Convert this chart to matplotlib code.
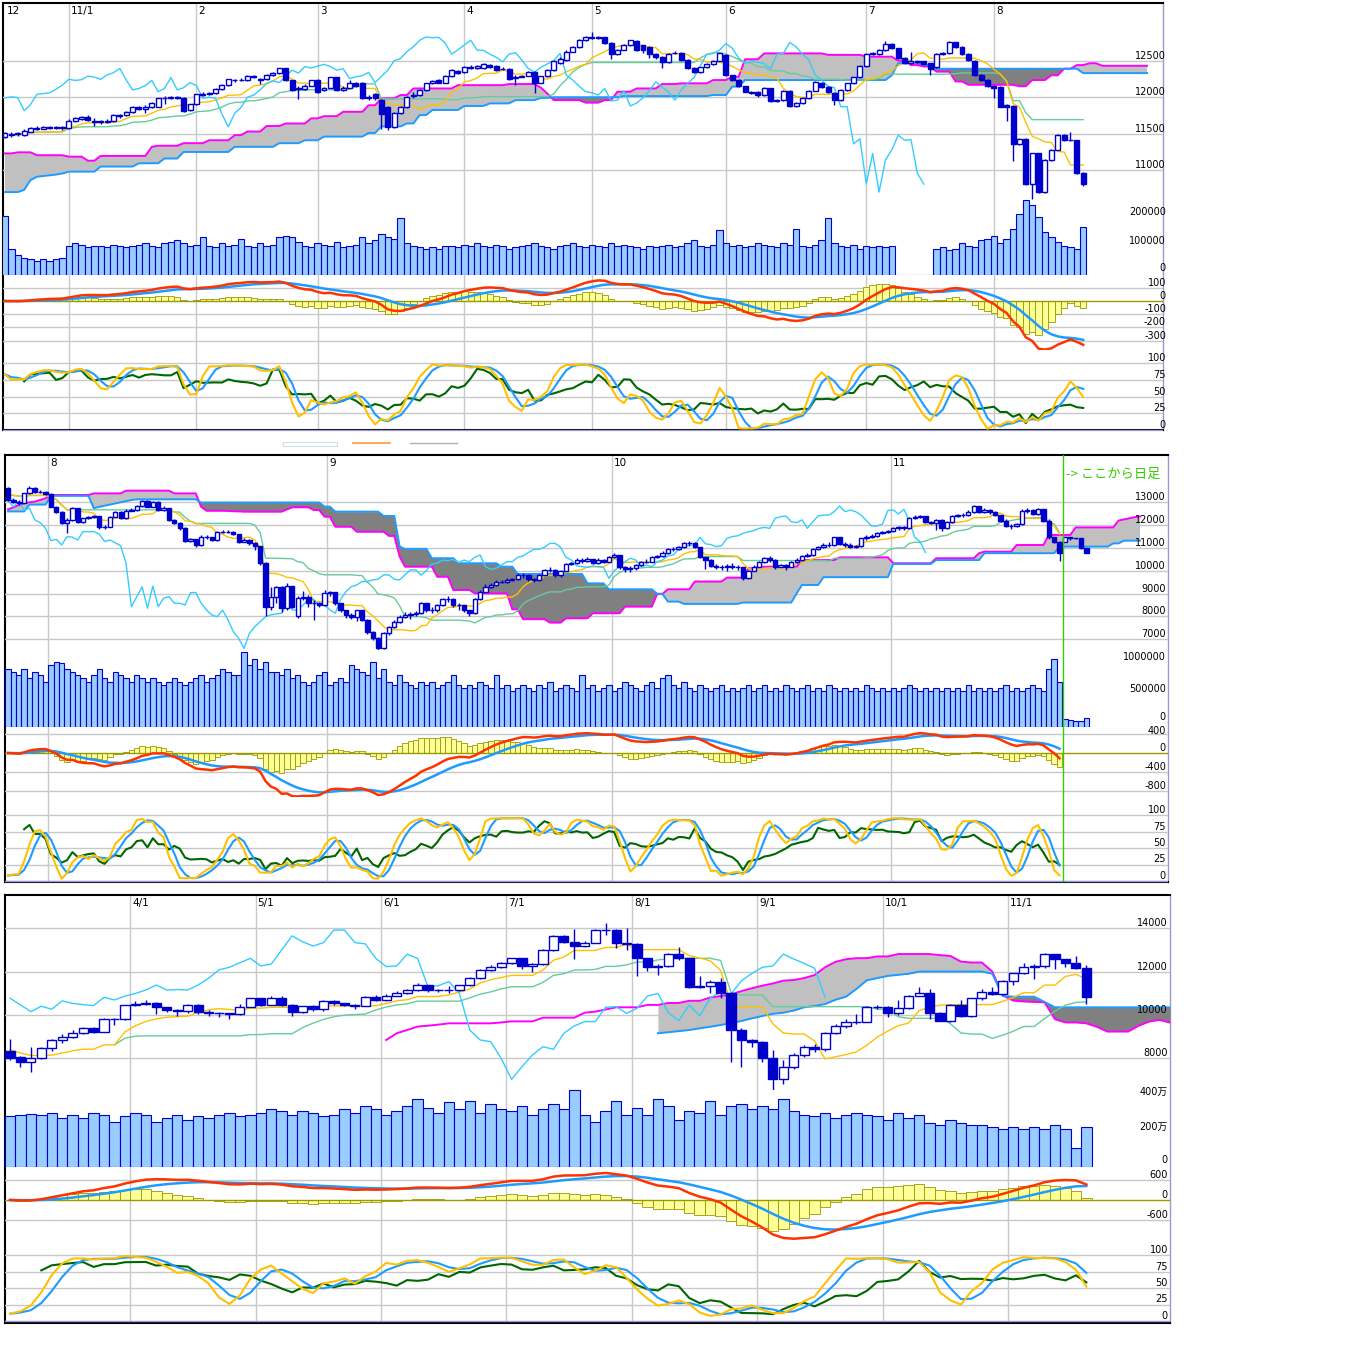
import numpy as np
import pandas as pd
import matplotlib
matplotlib.use('Agg')
import matplotlib.pyplot as plt
from matplotlib.transforms import blended_transform_factory as btf
from matplotlib.lines import Line2D
from matplotlib.patches import Rectangle

plt.rcParams['font.family'] = ['DejaVu Sans', 'Noto Sans CJK JP']

# ---------------- Panel 1 : daily (Dec - Aug) ----------------
p1_month_idx = [0, 10, 30, 49, 72, 92, 113, 135, 155]
p1_month_lbl = ['12', '11/1', '2', '3', '4', '5', '6', '7', '8']
p1_open = [11460,11485,11490,11480,11530,11570,11570,11580,11595,11580,
 11575,11680,11700,11735,11665,11670,11660,11670,11740,11755,
 11800,11860,11840,11870,11870,11985,11990,12000,11995,11830,
 11900,12030,12050,12055,12110,12165,12240,12235,12235,12285,
 12240,12245,12305,12330,12395,12235,12110,12115,12160,12235,
 12100,12130,12270,12100,12130,12200,12200,11985,12050,11960,
 11870,11595,11780,11860,12010,12030,12100,12190,12235,12200,
 12290,12365,12340,12420,12405,12400,12445,12425,12385,12390,
 12260,12280,12295,12350,12200,12285,12370,12470,12510,12625,
 12690,12780,12825,12815,12825,12745,12590,12650,12715,12775,
 12710,12690,12590,12550,12485,12600,12610,12510,12400,12345,
 12410,12455,12500,12580,12300,12240,12150,12075,12070,12030,
 12120,11950,11960,12090,11880,11920,11990,12090,12200,12140,
 12060,11960,12100,12190,12270,12430,12590,12590,12645,12730,
 12670,12535,12470,12490,12490,12465,12410,12590,12600,12750,
 12690,12590,12500,12310,12240,12150,12140,11890,11880,11360,
 11430,10810,11230,10700,11140,11280,11480,11410,11410,10960]
p1_close = [11515,11500,11510,11540,11575,11580,11585,11590,11575,11590,
 11680,11710,11725,11690,11670,11665,11680,11755,11755,11800,
 11860,11840,11870,11915,11985,11990,12005,11995,11815,11900,
 12040,12050,12060,12110,12165,12245,12230,12240,12290,12275,
 12245,12305,12335,12395,12235,12100,12120,12160,12230,12075,
 12120,12270,12100,12130,12200,12160,11985,12000,11985,11770,
 11595,11780,11860,12000,12030,12100,12190,12225,12200,12290,
 12370,12330,12420,12400,12425,12450,12420,12370,12390,12255,
 12280,12295,12340,12200,12285,12370,12500,12530,12625,12690,
 12780,12825,12815,12820,12740,12590,12650,12715,12780,12645,
 12640,12590,12545,12485,12590,12610,12510,12395,12345,12410,
 12455,12500,12600,12300,12235,12150,12075,12060,12030,12120,
 11950,11960,12090,11880,11920,11990,12090,12210,12140,12070,
 11960,12100,12190,12270,12430,12590,12600,12645,12735,12670,
 12535,12465,12490,12480,12460,12390,12590,12600,12750,12690,
 12590,12510,12300,12235,12150,12130,11870,11870,11360,11430,
 10810,11230,10700,11140,11280,11480,11410,11420,10960,10810]
p1_high = [11530,11520,11525,11560,11590,11600,11600,11605,11610,11605,
 11700,11730,11745,11750,11710,11690,11700,11770,11775,11815,
 11875,11880,11890,11930,11995,12010,12015,12010,12000,11910,
 12050,12065,12075,12120,12180,12255,12255,12260,12300,12300,
 12265,12320,12345,12405,12400,12240,12150,12175,12240,12250,
 12140,12280,12280,12150,12230,12210,12210,12030,12060,11970,
 11880,11800,11880,12010,12070,12110,12200,12240,12245,12300,
 12380,12375,12430,12435,12440,12465,12455,12435,12410,12400,
 12300,12310,12355,12360,12295,12380,12510,12545,12640,12705,
 12795,12840,12890,12835,12830,12750,12665,12730,12790,12785,
 12720,12700,12600,12560,12600,12630,12620,12520,12410,12420,
 12465,12510,12610,12590,12310,12250,12160,12090,12080,12135,
 12130,11980,12100,12100,11935,12000,12100,12220,12210,12150,
 12070,12110,12200,12280,12440,12600,12620,12660,12770,12740,
 12680,12545,12620,12500,12500,12475,12600,12620,12775,12760,
 12700,12600,12510,12320,12250,12165,12150,11900,11890,11440,
 11440,11240,11240,11150,11290,11490,11500,11530,11420,10970]
p1_low = [11440,11450,11470,11470,11520,11555,11560,11565,11560,11550,
 11560,11660,11690,11680,11600,11630,11645,11660,11720,11745,
 11790,11820,11780,11855,11860,11900,11975,11970,11800,11810,
 11890,12010,12035,12045,12100,12155,12215,12220,12225,12260,
 12180,12235,12290,12320,12225,12090,11980,12100,12150,12060,
 12085,12120,12090,12080,12120,12140,11970,11960,11960,11560,
 11550,11580,11770,11850,11990,12020,12090,12180,12190,12190,
 12280,12320,12330,12390,12390,12390,12405,12360,12370,12240,
 12170,12270,12285,12060,12190,12275,12360,12455,12500,12615,
 12680,12770,12800,12800,12730,12530,12580,12640,12705,12635,
 12600,12540,12530,12400,12475,12585,12500,12380,12330,12335,
 12400,12445,12490,12290,12225,12140,12065,12040,12000,12020,
 11940,11930,11950,11860,11870,11910,11980,12080,12130,12060,
 11890,11950,12090,12180,12260,12420,12575,12580,12635,12660,
 12520,12450,12460,12465,12445,12300,12400,12580,12590,12680,
 12580,12500,12290,12225,12140,11990,11860,11670,11130,11350,
 10800,10610,10690,10690,11130,11270,11400,11400,10950,10790]
p1_volume = [205,90,70,60,55,50,55,50,55,60,
 100,110,105,95,100,100,95,105,100,95,
 100,105,110,100,95,110,115,120,110,100,
 105,130,100,95,110,100,105,125,100,95,
 110,100,105,130,135,130,115,100,95,110,
 105,100,115,95,100,105,130,110,120,140,
 130,125,195,110,100,95,90,95,90,100,
 100,95,105,100,110,100,95,105,100,90,
 95,100,105,110,100,95,90,100,105,110,
 100,95,105,100,95,110,100,105,100,95,
 90,100,95,100,105,95,100,110,120,100,
 95,105,155,110,100,105,95,100,110,105,
 100,95,110,105,160,100,95,105,120,195,
 110,100,95,105,90,100,95,100,95,100,
 0,0,0,0,0,0,90,95,85,90,
 110,100,95,120,125,135,110,125,160,210,
 258,240,200,150,130,115,100,95,90,165]
p1_spanA = [11230,11230,11245,11245,11245,11205,11205,11205,11205,11205,
 11185,11185,11185,11130,11130,11195,11195,11195,11195,11195,
 11195,11195,11195,11320,11335,11335,11335,11335,11370,11370,
 11370,11370,11410,11410,11410,11410,11480,11480,11530,11530,
 11530,11605,11605,11605,11640,11640,11640,11640,11710,11710,
 11740,11740,11740,11800,11800,11800,11800,11890,11890,11985,
 11985,11985,12030,12030,12120,12120,12120,12120,12120,12120,
 12120,12165,12165,12165,12165,12165,12165,12165,12165,12180,
 12180,12180,12180,12180,12130,12050,11960,11960,11960,11960,
 11960,11925,11925,11925,11960,11960,12075,12075,12075,12120,
 12120,12120,12120,12180,12180,12180,12190,12190,12190,12190,
 12190,12235,12235,12235,12280,12280,12520,12520,12520,12600,
 12600,12600,12600,12600,12600,12600,12600,12600,12600,12580,
 12580,12580,12580,12580,12580,12555,12555,12555,12555,12555,
 12500,12500,12440,12440,12420,12420,12350,12350,12350,12215,
 12215,12170,12170,12170,12170,12170,12170,12170,12170,12150,
 12150,12235,12235,12235,12300,12300,12390,12390,12440,12440,
 12465,12465,12430,12430,12430,12430,12430,12430,12430,12430]
p1_spanB = [10700,10700,10700,10730,10865,10910,10920,10930,10940,10955,
 10980,10980,10980,10980,10980,11050,11050,11050,11050,11050,
 11050,11095,11095,11095,11095,11160,11160,11160,11250,11250,
 11250,11250,11250,11250,11250,11250,11320,11320,11320,11320,
 11320,11320,11320,11370,11370,11370,11370,11410,11410,11410,
 11460,11460,11460,11460,11460,11460,11460,11510,11510,11600,
 11600,11600,11600,11640,11640,11755,11755,11825,11825,11825,
 11825,11825,11880,11880,11880,11880,11915,11915,11915,11915,
 11960,11960,11960,11960,11990,11990,12000,12000,12000,12000,
 12000,12000,12000,12000,12000,12000,12000,12015,12015,12015,
 12015,12015,12015,12015,12015,12015,12015,12015,12015,12015,
 12015,12030,12030,12030,12145,12145,12235,12235,12235,12235,
 12235,12235,12235,12235,12235,12235,12235,12235,12235,12235,
 12235,12235,12235,12235,12235,12235,12235,12235,12235,12300,
 12465,12465,12465,12490,12440,12440,12390,12390,12390,12390,
 12390,12390,12390,12390,12390,12390,12390,12390,12390,12390,
 12390,12390,12390,12390,12390,12390,12390,12390,12390,12330,
 12330,12330,12330,12330,12330,12330,12330,12330,12330,12330]

# ---------------- Panel 2 : weekly 2008-2011 (+ daily) ----------------
p2_year_idx = [8, 60, 113, 165]
p2_year_lbl = ['8', '9', '10', '11']
p2_weekly_count = 197
p2_note = '-> ここから日足'
p2_open = [13610,13100,13030,12990,13390,13610,13470,13470,13365,12810,
 12590,12110,12230,12740,12150,12300,12370,12400,11900,11930,
 12370,12590,12300,12640,12660,12840,13070,12810,13030,12660,
 12740,12230,12110,11860,11320,11380,11130,11500,11470,11350,
 11720,11710,11720,11610,11280,11350,11230,11090,10330,8430,
 8870,9300,8360,9330,8020,8800,8870,8580,8580,8500,
 9040,9050,8580,8280,8060,7990,8280,7850,7330,7040,
 6600,7260,7550,7770,7990,8070,8110,8140,8580,8280,
 8280,8500,8750,8750,8500,8500,8290,8140,8750,9090,
 9310,9380,9530,9530,9600,9630,9820,9820,9630,9600,
 9820,10040,10040,9810,10010,10300,10330,10470,10440,10500,
 10360,10470,10400,10590,10690,10180,10060,10110,10250,10400,
 10400,10590,10650,10800,10940,10940,11030,11200,11200,11030,
 10590,10470,10210,10180,10150,10210,10180,10150,9670,10010,
 10180,10400,10550,10470,10180,10250,10180,10400,10470,10650,
 10690,10940,11060,11130,11130,11470,11180,11150,11060,11100,
 11420,11500,11530,11640,11710,11760,11860,11900,11860,12300,
 12370,12400,12150,12110,12230,11860,12150,12400,12440,12440,
 12590,12840,12590,12660,12590,12440,12200,11960,11960,12050,
 12640,12660,12490,12690,12200,11470,11280,11280,11470,11420,
 11420,10990]
p2_close = [13100,13030,12990,13390,13610,13470,13470,13365,12810,12590,
 12110,12230,12740,12150,12300,12370,12400,11900,11930,12370,
 12590,12300,12640,12660,12840,13070,12810,13030,12660,12740,
 12230,12110,11860,11320,11380,11130,11500,11470,11350,11720,
 11710,11720,11610,11280,11350,11230,11090,10330,8430,8870,
 9300,8360,9330,8430,8800,8870,8580,8580,8500,9040,
 9050,8580,8280,8060,7990,8280,7850,7330,7040,6600,
 7260,7550,7770,7990,8070,8110,8140,8580,8280,8280,
 8500,8750,8750,8500,8500,8290,8140,8750,9090,9310,
 9380,9530,9530,9600,9630,9820,9820,9630,9600,9820,
 10040,10040,9810,10010,10300,10330,10470,10440,10500,10360,
 10470,10400,10590,10690,10180,10060,10110,10250,10400,10400,
 10590,10650,10800,10940,10940,11030,11200,11200,11030,10590,
 10470,10210,10180,10150,10210,10180,10150,9670,10010,10180,
 10400,10550,10470,10180,10250,10180,10400,10470,10650,10690,
 10940,11060,11130,11130,11470,11180,11150,11060,11100,11420,
 11500,11530,11640,11710,11760,11860,11900,11860,12300,12370,
 12400,12150,12110,12230,11860,12150,12400,12440,12440,12590,
 12840,12590,12660,12590,12440,12200,11960,11960,12050,12640,
 12660,12490,12690,12200,11470,11280,10800,11470,11420,11420,
 10990,10800]
p2_high = [13650,13200,13100,13420,13700,13650,13520,13500,13400,12850,
 12620,12300,12780,12760,12330,12400,12450,12420,12000,12400,
 12620,12600,12700,12750,12900,13100,13080,13070,13050,12850,
 12760,12250,12150,11900,11450,11400,11550,11560,11500,11760,
 11800,11780,11750,11620,11420,11380,11260,11100,10400,9300,
 9350,9350,9450,9350,8900,9100,8950,8700,8650,9150,
 9100,9080,8600,8300,8150,8300,8290,7900,7350,7100,
 7300,7600,7850,8050,8200,8200,8250,8650,8600,8400,
 8550,8800,8900,8800,8600,8520,8300,8800,9150,9400,
 9450,9600,9600,9700,9700,9900,9900,9850,9700,9850,
 10100,10150,10060,10050,10350,10400,10550,10550,10600,10520,
 10550,10500,10650,10800,10700,10200,10200,10300,10450,10500,
 10650,10700,10850,11000,11050,11100,11280,11300,11250,11050,
 10600,10500,10300,10250,10300,10350,10250,10180,10050,10250,
 10450,10600,10650,10500,10300,10300,10450,10550,10700,10800,
 11000,11100,11200,11250,11500,11480,11250,11200,11150,11450,
 11550,11600,11700,11750,11800,11900,11950,11950,12350,12450,
 12450,12420,12200,12280,12250,12200,12450,12500,12550,12650,
 12900,12850,12750,12700,12600,12450,12250,12050,12100,12700,
 12750,12700,12750,12720,12250,11500,11300,11500,11480,11450,
 11450,11000]
p2_low = [13050,12950,12900,12950,13350,13400,13400,13300,12780,12550,
 12050,11640,12200,12100,12100,12280,12330,11850,11850,11900,
 12350,12250,12280,12600,12640,12800,12780,12800,12600,12620,
 12200,12050,11800,11280,11250,11050,11100,11400,11300,11320,
 11650,11650,11550,11200,11250,11150,10900,10250,8000,8300,
 8600,8200,8300,8350,7950,8700,8400,7850,8400,8450,
 8900,8500,8200,7950,7900,7800,7800,7250,6950,6530,
 6580,7200,7500,7700,7950,7900,8000,8100,8200,8150,
 8200,8450,8650,8400,8300,8200,8000,8100,8700,9050,
 9250,9350,9450,9450,9550,9600,9700,9550,9500,9550,
 9800,9950,9750,9750,9980,10250,10300,10350,10400,10300,
 10300,10350,10380,10550,10100,9950,9950,10050,10200,10350,
 10380,10550,10600,10750,10850,10900,11000,11100,11000,10550,
 10100,10150,10100,10050,10000,10100,10050,9600,9650,9980,
 10150,10350,10400,10100,10150,10050,10150,10350,10450,10600,
 10650,10900,11000,11050,11100,11150,11050,11000,11000,11050,
 11350,11450,11500,11600,11650,11700,11800,11800,11850,12250,
 12300,12100,12050,11800,11750,11850,12100,12350,12350,12400,
 12550,12550,12550,12500,12400,12150,11900,11850,11900,12000,
 12550,12450,12450,12150,11400,11200,10450,11250,11350,11380,
 10950,10780]
p2_volume = [900,850,800,900,750,850,800,700,950,1000,
 980,900,850,800,750,700,800,900,750,700,
 850,800,750,700,800,750,700,750,700,650,
 700,750,700,650,700,750,800,700,750,800,
 900,850,800,800,1150,950,1050,900,1000,850,
 850,800,900,750,800,700,650,700,800,850,
 650,700,750,700,950,900,850,800,1000,750,
 900,700,650,800,700,650,600,700,650,700,
 600,650,700,800,650,600,650,600,700,650,
 600,800,600,650,550,600,650,600,550,650,
 600,700,550,600,650,600,550,800,600,650,
 550,600,650,550,600,700,650,600,550,650,
 700,600,750,800,650,600,700,600,550,650,
 600,550,600,650,550,600,550,600,650,550,
 600,650,550,600,550,650,600,550,600,650,
 550,600,550,650,600,550,600,550,600,550,
 650,600,550,600,550,600,550,600,650,600,
 550,600,550,600,550,600,550,600,550,650,
 550,600,550,600,550,600,650,550,600,550,
 600,650,600,550,900,1050,700,120,110,90,
 100,140]
p2_spanA = [12690,12780,12880,12950,13000,13030,13100,13175,13320,13320,
 13320,13320,13320,13320,13320,13320,13390,13390,13390,13390,
 13390,13390,13510,13510,13510,13510,13510,13510,13510,13510,
 13510,13390,13390,13390,13390,13390,12800,12630,12630,12630,
 12630,12620,12610,12600,12590,12590,12590,12590,12590,12590,
 12590,12590,12690,12780,12780,12780,12780,12660,12660,12370,
 12370,11930,11930,11930,11930,11710,11710,11710,11710,11710,
 11710,11530,11530,10620,10180,10180,10180,10180,10180,10180,
 9740,9740,9740,9160,9160,9160,9160,9010,9010,9010,
 9010,9010,9010,9010,8310,8310,7880,7880,7880,7880,
 7880,7730,7730,7730,7920,7920,7920,7920,7920,8140,
 8140,8140,8140,8140,8140,8430,8430,8430,8430,8430,
 8430,8990,8990,9190,9190,9190,9190,9190,9530,9530,
 9530,9530,9530,9530,9700,9700,9700,9700,10110,10110,
 10180,10180,10180,10180,10180,10180,10180,10180,10470,10470,
 10470,10470,10470,10470,10470,10590,10590,10590,10590,10590,
 10590,10590,10590,10590,10590,10330,10330,10330,10330,10330,
 10330,10330,10330,10550,10550,10550,10550,10550,10550,10550,
 10550,10770,10840,10840,10840,10840,10840,10840,11130,11130,
 11130,11130,11130,11130,11570,11570,11570,11570,11570,11900,
 11900,11900,11900,11900,11900,11900,11900,12200,12250,12300,
 12350,12380]
p2_spanB = [12600,12600,12600,12600,12900,12900,12900,12900,13280,13280,
 13280,13280,13280,13280,13280,13280,12740,12800,12850,12900,
 12950,13000,13050,13100,13130,13130,13130,13130,13130,13130,
 13130,13130,13130,13130,13130,13130,12990,12990,12990,12990,
 12990,12990,12990,12990,12990,12990,12990,12990,12990,12990,
 12990,12990,12990,12990,12990,12990,12990,12990,12990,12810,
 12810,12590,12590,12590,12590,12590,12590,12590,12590,12590,
 12400,12400,12400,11060,10960,10960,10960,10960,10960,10550,
 10550,10550,10550,10550,10330,10330,10330,10330,10330,10330,
 10330,10330,10180,10180,10180,9860,9860,9860,9860,9860,
 9860,9860,9860,9860,9860,9860,9860,9860,9450,9450,
 9450,9450,9190,9190,9190,9190,9190,9190,9190,9190,
 9190,8990,8990,8650,8650,8650,8550,8550,8550,8550,
 8550,8550,8550,8550,8550,8550,8550,8610,8610,8610,
 8610,8610,8610,8610,8610,8610,8610,9010,9380,9380,
 9380,9380,9720,9720,9720,9720,9720,9720,9720,9720,
 9720,9720,9720,9720,9720,10300,10300,10300,10300,10300,
 10300,10300,10300,10470,10470,10470,10470,10470,10470,10470,
 10470,10470,10770,10770,10770,10770,10770,10770,10770,10770,
 10770,10770,10770,10770,10770,10770,11060,11060,11060,11060,
 11060,11060,11060,11060,11060,11060,11200,11200,11320,11320,
 11320,11320]

# ---------------- Panel 3 : Mar - Nov ----------------
p3_month_idx = [12, 24, 36, 48, 60, 72, 84, 96]
p3_month_lbl = ['4/1', '5/1', '6/1', '7/1', '8/1', '9/1', '10/1', '11/1']
p3_open = [8330,8040,7840,7990,8450,8840,9000,9180,9380,9225,
 9800,9800,10460,10510,10560,10350,10225,10170,10460,10150,
 10070,10070,10020,10380,10770,10460,10770,10460,10150,10400,
 10260,10650,10530,10470,10430,10810,10690,10870,10990,11150,
 11380,11150,11170,11150,11380,11690,12080,12200,12410,12610,
 12260,12350,13000,13650,13380,13180,13340,13920,13920,13340,
 13280,12610,12230,12260,12800,12610,11300,11350,11540,11000,
 9300,8840,8760,7990,7020,7610,8150,8530,8410,9150,
 9490,9690,9690,10350,10380,10070,10300,10870,10990,10100,
 9730,10460,9950,10770,11070,10960,11580,11920,12200,12260,
 12810,12580,12380,12150]
p3_close = [8025,7840,7990,8450,8840,9000,9180,9380,9225,9800,
 9800,10460,10510,10560,10350,10225,10170,10460,10150,10070,
 10070,10020,10380,10770,10460,10770,10460,10150,10400,10260,
 10650,10530,10470,10430,10810,10690,10870,10990,11150,11380,
 11150,11170,11150,11380,11690,12080,12200,12410,12610,12260,
 12350,13000,13650,13380,13180,13340,13920,13920,13340,13280,
 12610,12230,12260,12800,12610,11300,11350,11540,11000,9300,
 8840,8760,7990,7020,7610,8150,8530,8410,9150,9490,
 9690,9690,10350,10380,10070,10300,10870,10990,10100,9730,
 10460,9950,10770,11070,10960,11580,11920,12200,12260,12810,
 12580,12380,12150,10810]
p3_high = [8870,8100,8530,8500,8900,9100,9300,9450,9450,9850,
 9850,10470,10650,10680,10600,10380,10280,10500,10480,10230,
 10150,10100,10500,10800,10790,10880,10850,10480,10420,10450,
 10680,10700,10550,10500,10850,10900,10950,11100,11200,11450,
 11400,11200,11350,11400,11750,12100,12300,12450,12650,12630,
 12400,13050,13700,13700,13950,13400,13950,14230,13950,14000,
 13300,12650,12350,12850,13150,12650,11800,11600,11700,11050,
 9400,8900,8800,8400,7900,8250,8600,8650,9200,9600,
 9800,10050,10400,10450,10400,10700,10900,11300,11200,10150,
 10500,10700,10800,11200,11300,11600,11950,12400,12350,12850,
 12830,12600,12700,12300]
p3_low = [7920,7610,7380,7950,8350,8700,8950,9100,9150,9200,
 9550,9780,10400,10450,10050,10150,9950,10100,10050,9950,
 9900,9820,10000,10350,10420,10450,10400,9950,10100,10200,
 10200,10450,10400,10250,10400,10650,10650,10850,10950,11100,
 11050,11050,11000,11100,11350,11650,12050,12150,12350,12100,
 12000,12300,12950,13300,12600,13150,13300,13700,13100,13000,
 11800,12050,11830,12200,12550,11250,11250,11000,10800,7840,
 7600,8500,7800,6530,6800,7500,8050,8300,8350,9100,
 9400,9600,9650,10250,9900,10000,10250,10850,9800,9700,
 9650,9900,9900,10700,10900,10900,11400,11900,11650,12150,
 12100,12200,12100,10480]
p3_volume = [290,300,305,300,310,280,300,280,310,300,
 260,290,310,300,260,280,300,270,290,280,
 300,310,290,300,310,330,320,300,320,310,
 290,300,330,310,350,330,300,320,350,390,
 340,310,370,330,380,310,360,330,320,350,
 300,330,360,330,440,300,260,320,380,300,
 340,300,390,350,270,320,310,380,300,350,
 360,330,350,330,390,320,300,290,310,280,
 300,310,300,290,270,310,280,300,250,240,
 270,250,240,240,230,220,230,220,230,220,
 240,220,110,230]
p3_spanA = [None]*36 + [8840,9150,9300,9460,
 9500,9550,9610,9610,9610,9610,9610,9650,9700,9700,
 9700,9870,9870,9870,9870,10100,10150,10250,10350,10350,
 10350,10460,10460,10550,10550,10650,10650,10800,10870,10950,
 11100,11230,11350,11450,11580,11610,11700,11840,12200,12450,
 12570,12620,12620,12700,12700,12810,12810,12810,12810,12760,
 12720,12460,12420,12420,12000,10900,10660,10620,10600,10580,
 9800,9650,9650,9610,9450,9230,9230,9230,9500,9690,
 9770,9640]
p3_spanB = [None]*62 + [9150,9200,9250,9300,9380,9450,9530,9620,
 9720,9840,9950,10050,10100,10200,10350,10410,10500,10700,
 10840,11200,11600,11700,11800,11850,11900,12000,12000,12000,
 12000,12000,12000,12000,11900,10870,10840,10840,10840,10600,
 10350,10350,10350,10350,10350,10350,10350,10350,10350,10350,
 10350,10350]

# ---------------- drawing helpers ----------------
W, H = 1366, 1360
fig = plt.figure(figsize=(W / 100, H / 100), dpi=100)
fig.patch.set_facecolor('white')

CANDLE = '#0000CC'
GRID = '#C8C8C8'
FS = 7


def add_ax(px0, px1, py0, py1, xlim, z):
    ax = fig.add_axes([px0 / W, 1 - py1 / H, (px1 - px0) / W, (py1 - py0) / H], zorder=z)
    ax.set_xlim(*xlim)
    ax.axis('off')
    return ax


def set_y(ax, py0, py1, yref, vref, per_px):
    ax.set_ylim(vref - (py1 - yref) * per_px, vref + (yref - py0) * per_px)


def hgrid(ax, vals, color=GRID, lw=1.0):
    for v in vals:
        ax.axhline(v, color=color, lw=lw, zorder=0.5)


def ylabels(ax, vals, labels, xr, lift=None):
    tr = btf(fig.transFigure, ax.transData)
    lift = lift or [0] * len(vals)
    for v, s, d in zip(vals, labels, lift):
        ax.annotate(s, xy=(xr / W, v), xycoords=tr, xytext=(0, d), textcoords='offset points',
                    ha='right', va='bottom', fontsize=FS, annotation_clip=False, zorder=10)


def frame(px0, px1, py0, py1, xlim, grid_x, lbl_x, lbls):
    bg = fig.add_axes([px0 / W, 1 - py1 / H, (px1 - px0) / W, (py1 - py0) / H], zorder=0)
    bg.set_xlim(*xlim)
    bg.set_ylim(0, 1)
    bg.set_xticks([])
    bg.set_yticks([])
    bg.set_facecolor('white')
    for k in ('top', 'left', 'bottom'):
        bg.spines[k].set_color('black')
        bg.spines[k].set_linewidth(1.5)
    bg.spines['right'].set_color('#9999CC')
    bg.spines['right'].set_linewidth(1.0)
    for xv in grid_x:
        bg.axvline(xv, color=GRID, lw=1.0)
    for xv, s in zip(lbl_x, lbls):
        bg.annotate(s, xy=(xv, 1), xycoords=('data', 'axes fraction'), xytext=(1.5, -2),
                    textcoords='offset points', ha='left', va='top', fontsize=7.5)
    return bg


def candles(ax, x, o, h, l, c, width):
    ax.vlines(x, l, h, color=CANDLE, lw=1.0, zorder=3)
    up = c >= o
    bot = np.minimum(o, c)
    hgt = np.abs(c - o)
    ax.bar(x[up], hgt[up], width, bot[up], color='white', edgecolor=CANDLE, lw=1.0, zorder=4)
    ax.bar(x[~up], hgt[~up], width, bot[~up], color=CANDLE, edgecolor=CANDLE, lw=1.0, zorder=4)


def cloud(ax, a, b):
    a = np.array(a, dtype=float)
    b = np.array(b, dtype=float)
    x = np.arange(len(a))
    ok = ~np.isnan(a) & ~np.isnan(b)
    xs, aa, bb = x[ok], a[ok], b[ok]
    ax.fill_between(xs, aa, bb, where=aa >= bb, interpolate=True, color='#C0C0C0', lw=0, zorder=1)
    ax.fill_between(xs, aa, bb, where=bb > aa, interpolate=True, color='#808080', lw=0, zorder=1)
    ax.plot(x, a, color='#FF00FF', lw=1.4, zorder=2)
    ax.plot(x, b, color='#1E9BFF', lw=1.4, zorder=2)


def ichimoku_lines(ax, h, l, c, kijun_from=0):
    hs, ls = pd.Series(h), pd.Series(l)
    tenkan = (hs.rolling(9, min_periods=1).max() + ls.rolling(9, min_periods=1).min()) / 2
    kijun = (hs.rolling(26, min_periods=1).max() + ls.rolling(26, min_periods=1).min()) / 2
    x = np.arange(len(c))
    ax.plot(x[kijun_from:], kijun.values[kijun_from:], color='#66CC99', lw=1.0, zorder=2)
    ax.plot(x, tenkan.values, color='#FFC000', lw=1.0, zorder=2)
    ax.plot(x[25:] - 25, c[25:], color='#33CCFF', lw=1.0, zorder=2)


def macd_plot(ax, c):
    s = pd.Series(c)
    m = s.ewm(span=12, adjust=False).mean() - s.ewm(span=26, adjust=False).mean()
    sig = m.ewm(span=9, adjust=False).mean()
    hist = 1.5 * (m - sig)
    x = np.arange(len(c))
    ax.bar(x, hist.values, 1.0, color='#FFFF99', edgecolor='#999900', lw=0.6, zorder=1)
    ax.axhline(0, color='#999900', lw=1.0, zorder=1.5)
    ax.plot(x, sig.values, color='#1E9BFF', lw=1.8, zorder=2)
    ax.plot(x, m.values, color='#FF3300', lw=1.8, zorder=3)


def stoch_plot(ax, h, l, c):
    hh = pd.Series(h).rolling(9, min_periods=1).max()
    ll = pd.Series(l).rolling(9, min_periods=1).min()
    k = 100 * (pd.Series(c) - ll) / (hh - ll).replace(0, np.nan)
    d = k.rolling(3, min_periods=1).mean()
    sd = d.rolling(3, min_periods=1).mean()
    dc = pd.Series(c).diff()
    up = dc.clip(lower=0).rolling(14, min_periods=3).mean()
    dn = (-dc).clip(lower=0).rolling(14, min_periods=3).mean()
    rsi = 100 * up / (up + dn)
    x = np.arange(len(c))
    ax.plot(x, rsi.values, color='#006600', lw=1.5, zorder=2)
    ax.plot(x, sd.values, color='#1E9BFF', lw=1.5, zorder=3)
    ax.plot(x, d.values, color='#FFC000', lw=1.5, zorder=4)


def vol_plot(ax, v):
    x = np.arange(len(v))
    ax.bar(x, v, 1.0, color='#99CCFF', edgecolor=CANDLE, lw=0.8, zorder=2)


STO_V = [100, 75, 50, 25, 0]
STO_L = ['100', '75', '50', '25', '0']

# ================= Panel 1 =================
o1, h1, l1, c1 = map(lambda a: np.array(a, float), (p1_open, p1_high, p1_low, p1_close))
n1 = len(c1)
X0, DX = 5, 6.38
PX0, PX1 = 3, 1163
xl1 = ((PX0 - X0) / DX, (PX1 - X0) / DX)
frame(PX0, PX1, 3, 430, xl1, p1_month_idx[1:], p1_month_idx, p1_month_lbl)
ax = add_ax(PX0, PX1, 3, 207, xl1, 1)
set_y(ax, 3, 207, 60.7, 12500, 13.7)
hgrid(ax, [12500, 12000, 11500, 11000])
cloud(ax, p1_spanA, p1_spanB)
ichimoku_lines(ax, h1, l1, c1)
candles(ax, np.arange(n1), o1, h1, l1, c1, 0.78)
ylabels(ax, [12500, 12000, 11500, 11000], ['12500', '12000', '11500', '11000'], 1166)
ax = add_ax(PX0, PX1, 190, 275, xl1, 2)
set_y(ax, 190, 275, 275, 0, 100 / 29)
vol_plot(ax, np.array(p1_volume, float))
ylabels(ax, [200, 100, 0], ['200000', '100000', '0'], 1166, [0, 0, 1.5])
ax = add_ax(PX0, PX1, 276, 350, xl1, 2)
set_y(ax, 276, 350, 301, 0, 100 / 13.2)
hgrid(ax, [100, -100, -200, -300])
macd_plot(ax, c1)
ylabels(ax, [100, 0, -100, -200, -300], ['100', '0', '-100', '-200', '-300'], 1166)
ax = add_ax(PX0, PX1, 350, 431, xl1, 2)
set_y(ax, 350, 431, 430, 0, 25 / 16.7)
hgrid(ax, [100, 75, 50, 25])
hgrid(ax, [0], color='#9999DD')
stoch_plot(ax, h1, l1, c1)
ylabels(ax, STO_V, STO_L, 1166)

# ================= Panel 2 =================
o2, h2, l2, c2 = map(lambda a: np.array(a, float), (p2_open, p2_high, p2_low, p2_close))
n2 = len(c2)
nw = p2_weekly_count
X0, DX = 8, 5.365
PX0, PX1 = 5, 1168
xl2 = ((PX0 - X0) / DX, (PX1 - X0) / DX)
yr = [i - 0.5 for i in p2_year_idx]
bg2 = frame(PX0, PX1, 455, 882, xl2, yr, yr, p2_year_lbl)
ax = add_ax(PX0, PX1, 455, 650, xl2, 1)
set_y(ax, 455, 650, 502.3, 13000, 43.8)
pv = [13000, 12000, 11000, 10000, 9000, 8000, 7000]
hgrid(ax, pv)
cloud(ax, p2_spanA, p2_spanB)
ichimoku_lines(ax, h2[:nw], l2[:nw], c2[:nw])
candles(ax, np.arange(n2), o2, h2, l2, c2, 0.8)
ylabels(ax, pv, [str(v) for v in pv], 1166)
ax = add_ax(PX0, PX1, 640, 727, xl2, 2)
set_y(ax, 640, 727, 727, 0, 1000 / 65)
vol_plot(ax, np.array(p2_volume, float))
ylabels(ax, [1000, 500, 0], ['1000000', '500000', '0'], 1166, [0, 0, 3.5])
ax = add_ax(PX0, PX1, 729, 797, xl2, 2)
set_y(ax, 729, 797, 753, 0, 400 / 19)
hgrid(ax, [400, -400, -800])
macd_plot(ax, c2[:nw])
ylabels(ax, [400, 0, -400, -800], ['400', '0', '-400', '-800'], 1166, [-1.5, 0, 0, 0])
ax = add_ax(PX0, PX1, 800, 883, xl2, 2)
set_y(ax, 800, 883, 881, 0, 25 / 16.5)
hgrid(ax, [100, 75, 50, 25])
hgrid(ax, [0], color='#9999DD')
stoch_plot(ax, h2[:nw], l2[:nw], c2[:nw])
ylabels(ax, STO_V, STO_L, 1166)
axg = add_ax(PX0, PX1, 455, 882, xl2, 5)
axg.set_ylim(0, 1)
axg.axvline(nw - 0.4, color='#33CC00', lw=1.0)
axg.annotate(p2_note, xy=(nw - 0.4, 1), xycoords=('data', 'axes fraction'), xytext=(2, -14),
             textcoords='offset points', ha='left', va='center', fontsize=9.5, color='#33CC00',
             family=['Noto Sans CJK JP', 'DejaVu Sans'])

# ================= Panel 3 =================
o3, h3, l3, c3 = map(lambda a: np.array(a, float), (p3_open, p3_high, p3_low, p3_close))
n3 = len(c3)
X0, DX = 10, 10.45
PX0, PX1 = 5, 1170
xl3 = ((PX0 - X0) / DX, (PX1 - X0) / DX)
mg = [i - 0.5 for i in p3_month_idx]
frame(PX0, PX1, 895, 1323, xl3, mg, mg, p3_month_lbl)
ax = add_ax(PX0, PX1, 895, 1090, xl3, 1)
set_y(ax, 895, 1090, 928.3, 14000, 46.2)
pv = [14000, 12000, 10000, 8000]
hgrid(ax, pv)
cloud(ax, p3_spanA, p3_spanB)
ichimoku_lines(ax, h3, l3, c3, kijun_from=10)
candles(ax, np.arange(n3), o3, h3, l3, c3, 0.88)
ylabels(ax, pv, [str(v) for v in pv], 1168)
ax = add_ax(PX0, PX1, 1085, 1167, xl3, 2)
set_y(ax, 1085, 1167, 1167, 0, 200 / 35)
vol_plot(ax, np.array(p3_volume, float))
ylabels(ax, [400, 200, 0], ['400万', '200万', '0'], 1168, [0, 0, 1.5])
ax = add_ax(PX0, PX1, 1168, 1243, xl3, 2)
set_y(ax, 1168, 1243, 1200, 0, 30)
hgrid(ax, [600, -600])
macd_plot(ax, c3)
ylabels(ax, [600, 0, -600], ['600', '0', '-600'], 1168)
ax = add_ax(PX0, PX1, 1243, 1323, xl3, 2)
set_y(ax, 1243, 1323, 1321, 0, 25 / 16.5)
hgrid(ax, [100, 75, 50, 25])
hgrid(ax, [0], color='#9999DD')
stoch_plot(ax, h3, l3, c3)
ylabels(ax, STO_V, STO_L, 1168)

# small stubs under panel 1 (legend remnants)
fig.add_artist(Rectangle((283 / W, 1 - 446 / H), 54 / W, 4 / H, transform=fig.transFigure,
                         fill=False, edgecolor='#D0DCE4', lw=0.8))
fig.add_artist(Line2D([353 / W, 390 / W], [1 - 443 / H] * 2, color='#FF9933', lw=1.2))
fig.add_artist(Line2D([410 / W, 457 / W], [1 - 443 / H] * 2, color='#B0B0B0', lw=1.0))

fig.savefig('out.png', dpi=100, facecolor='white')
